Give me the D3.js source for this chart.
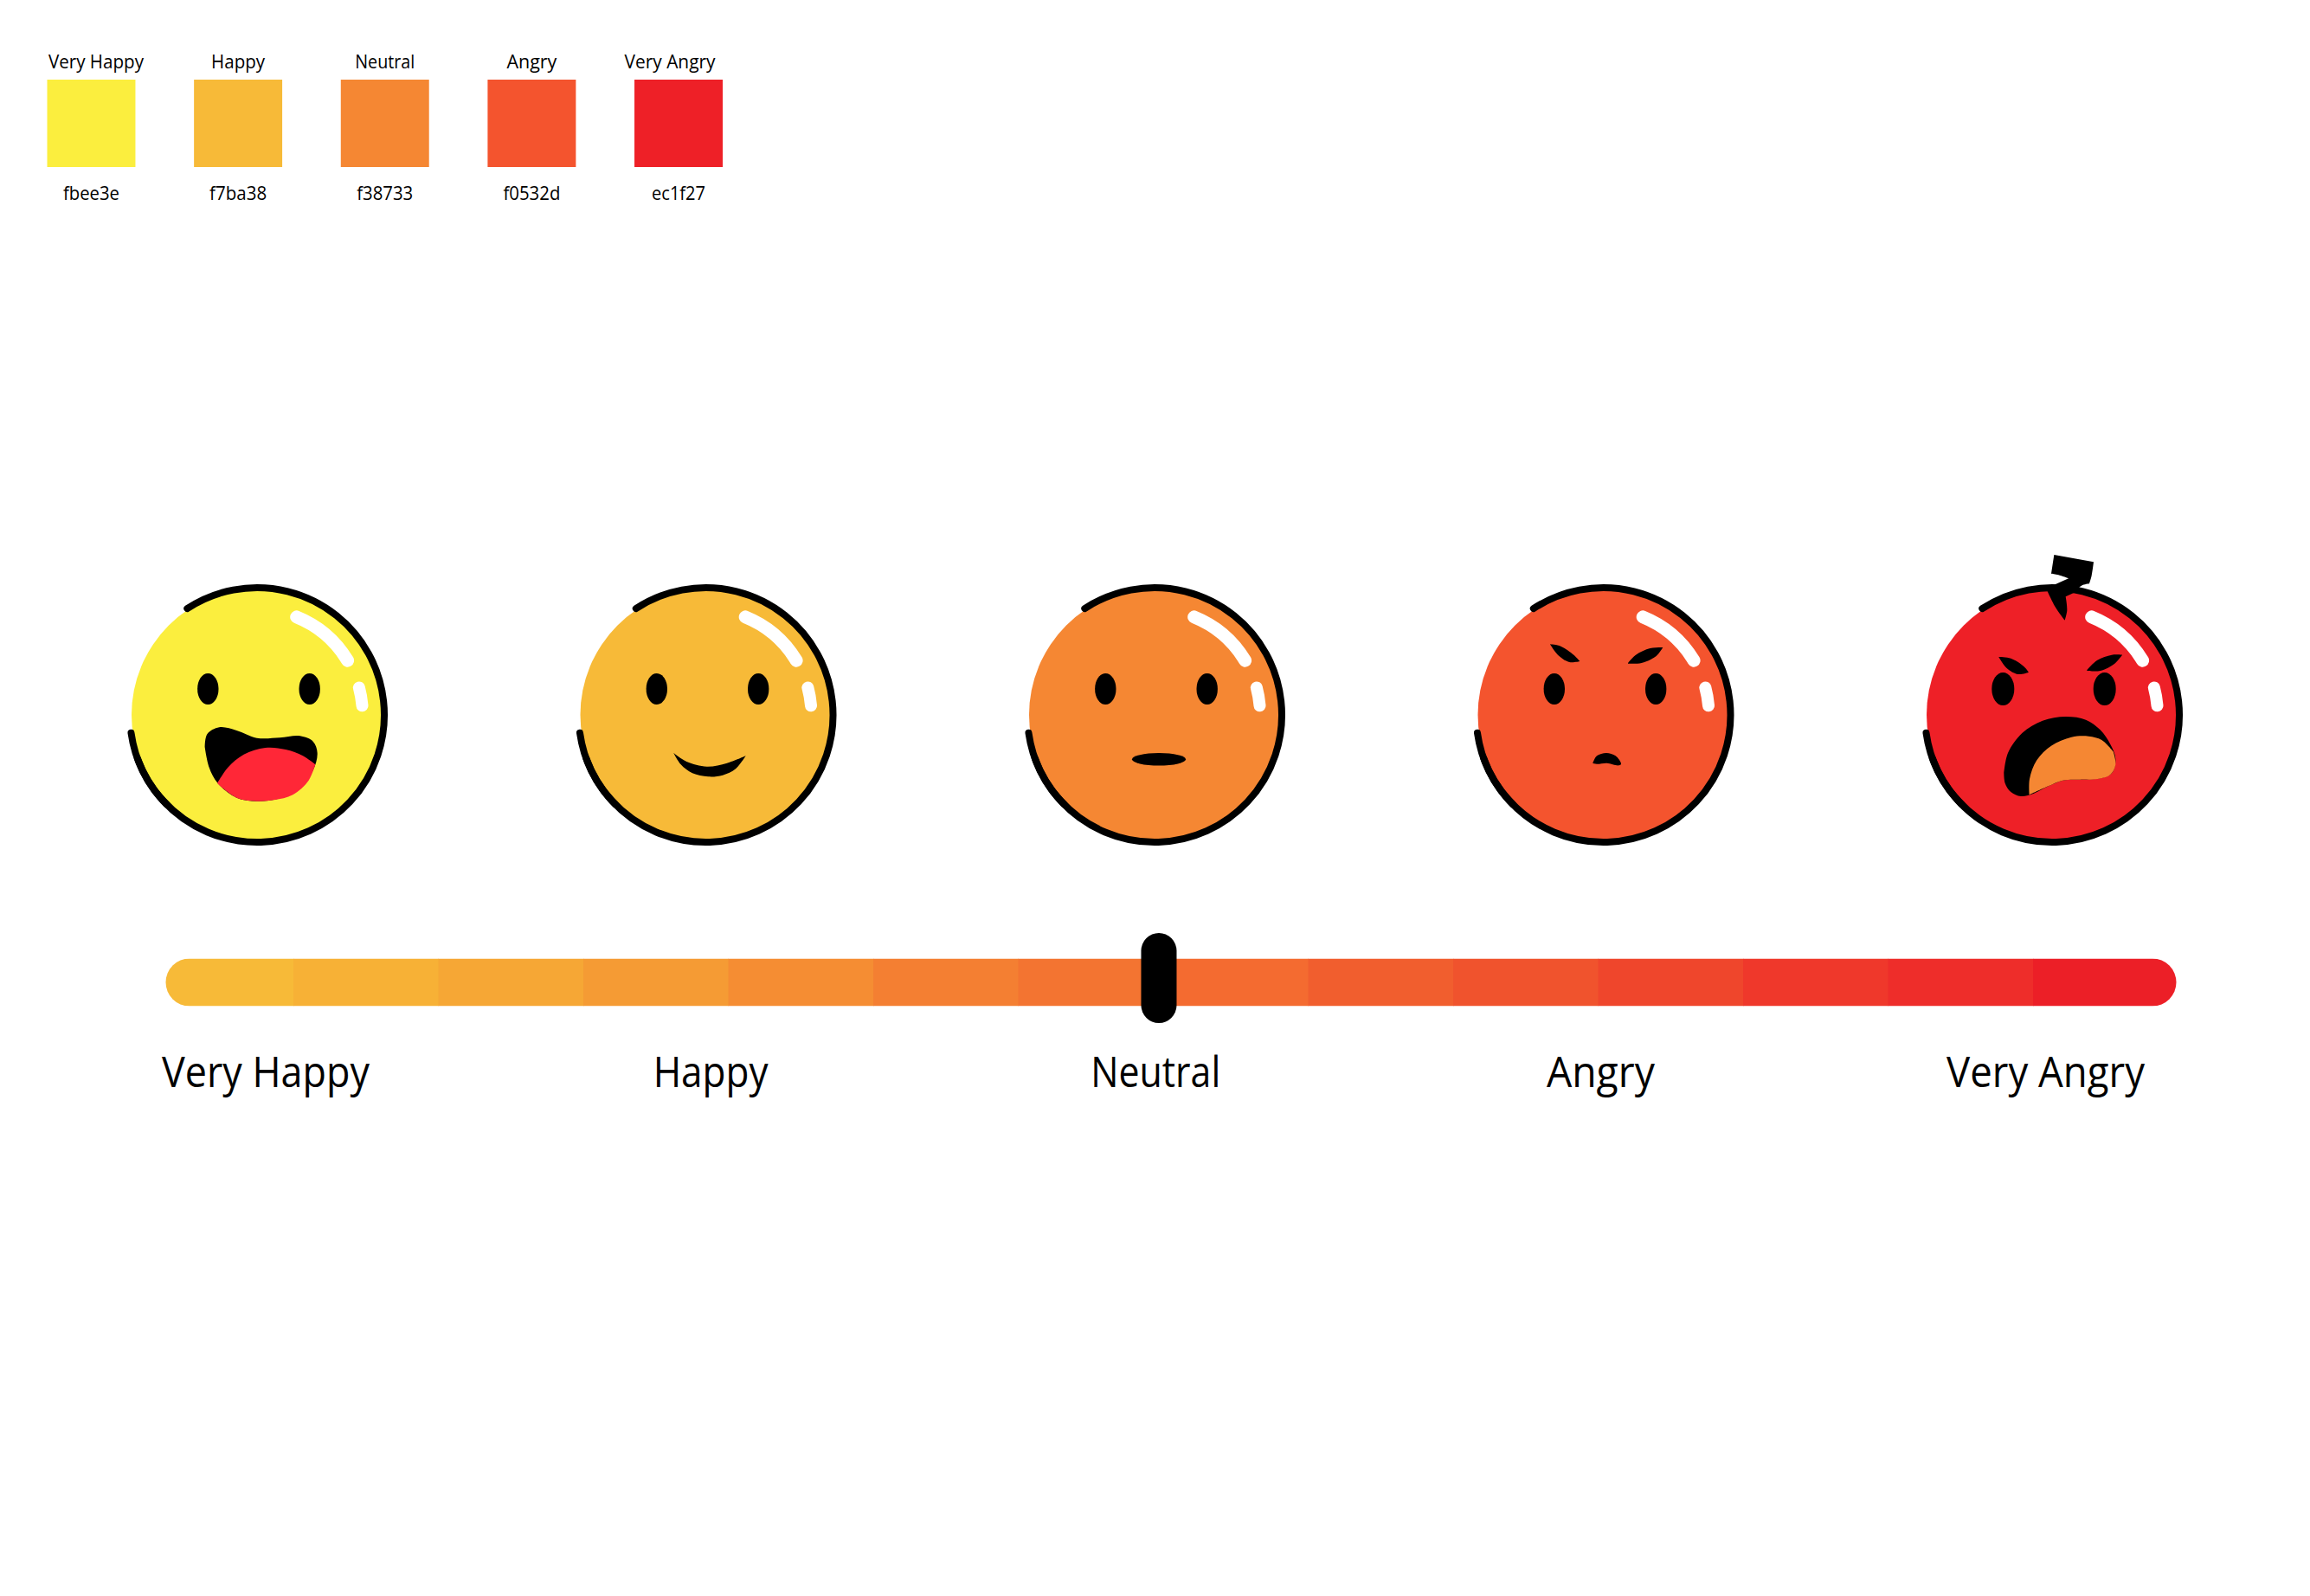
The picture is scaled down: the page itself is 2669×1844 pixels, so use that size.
<!DOCTYPE html>
<html>
<head>
<meta charset="utf-8">
<script src="https://cdn.jsdelivr.net/npm/d3@7"></script>
<style>
	html, body { margin: 0; background: #fff; }
	svg { display: block; }
	text { font-family: "Open Sans", sans-serif; fill: #000; }
</style>
</head>
<body>
<div id="chart"></div>
<script>
var moods = ["Very Happy", "Happy", "Neutral", "Angry", "Very Angry"];
var moodColors = ["#fbee3e", "#f7ba38", "#f58733", "#f4542e", "#ee2027"];
var hexLabels = ["fbee3e", "f7ba38", "f38733", "f0532d", "ec1f27"];

// slider steps, left to right
var sliderSteps = [0, 1, 2, 3, 4, 5, 6, 7, 8, 9, 10, 11, 12, 13];
var sliderColors = ["#f7ba38", "#f7b136", "#f6a735", "#f59b34", "#f58d33", "#f47f32", "#f37431",
	"#f46b30", "#f15e2e", "#f0532d", "#ef462c", "#ef382b", "#ee2d2a", "#ec1f27"];
var sliderValue = 6.97;

// label widths of the original lettering
var legendNameWidths = [110, 62, 69, 58, 105];
var legendNameShift = [5.5, 0, 0, 0, -10];
var legendHexWidths = [65, 66, 65, 66, 62];
var scaleNameWidths = [240, 133, 150, 125, 229];

var width = 2669, height = 1844;

var svg = d3.select("#chart").append("svg")
	.attr("width", width)
	.attr("height", height)
	.attr("viewBox", [0, 0, width, height]);

// ---- legend swatches
var swatchX = d3.scaleBand().domain(moods).range([54.5, 835]).paddingInner(0.399);

var legend = svg.append("g").selectAll("g").data(moods).enter().append("g");

legend.append("rect")
	.attr("x", function(d){ return swatchX(d) })
	.attr("y", 92)
	.attr("width", swatchX.bandwidth())
	.attr("height", 101)
	.attr("fill", function(d, i){ return moodColors[i] });

legend.append("text")
	.attr("x", function(d, i){ return swatchX(d) + swatchX.bandwidth() / 2 + legendNameShift[i] })
	.attr("y", 79)
	.attr("text-anchor", "middle")
	.attr("font-size", 22)
	.attr("textLength", function(d, i){ return legendNameWidths[i] })
	.attr("lengthAdjust", "spacingAndGlyphs")
	.text(function(d){ return d });

legend.append("text")
	.attr("x", function(d){ return swatchX(d) + swatchX.bandwidth() / 2 })
	.attr("y", 231)
	.attr("text-anchor", "middle")
	.attr("font-size", 22)
	.attr("textLength", function(d, i){ return legendHexWidths[i] })
	.attr("lengthAdjust", "spacingAndGlyphs")
	.text(function(d, i){ return hexLabels[i] });

// ---- faces
var faceX = d3.scalePoint().domain(moods).range([297, 2371]);
var faceY = 826, faceR = 147;

// shapes are traced in 3x crop pixels around the face centre, segments meet in hard corners
var unit = d3.scaleLinear().domain([0, 3]).range([0, 1]);
var traced = d3.line().curve(d3.curveCatmullRom)
	.x(function(d){ return unit(d[0]) })
	.y(function(d){ return unit(d[1]) });

function shape(segments, cx, cy){
	var moved = segments.map(function(seg){
		return seg.map(function(p){ return [p[0] - cx, p[1] - cy] });
	});
	return moved.map(function(seg, i){
		var d = traced(seg);
		return i ? d.replace("M", "L") : d;
	}).join("") + "Z";
}

function arcPath(r, from, to){
	var p = d3.path(), rad = Math.PI / 180;
	p.arc(0, 0, r, (from - 90) * rad, (to - 90) * rad);
	return p.toString();
}

var faces = svg.append("g").selectAll("g").data(moods).enter().append("g")
	.attr("transform", function(d){ return "translate(" + faceX(d) + "," + faceY + ")" });

faces.append("circle")
	.attr("cx", 1)
	.attr("r", faceR - 1)
	.attr("fill", function(d, i){ return moodColors[i] });

// outline, broken on the upper left
[[-33.3, 250.1], [-134.7, -98.1]].forEach(function(a){
	faces.append("path")
		.attr("d", arcPath(faceR, a[0], a[1]))
		.attr("fill", "none")
		.attr("stroke", "#000")
		.attr("stroke-width", 8)
		.attr("stroke-linecap", "round");
});

// gloss
[[22, 59, 15], [75, 85, 14]].forEach(function(a){
	faces.append("path")
		.attr("d", arcPath(122, a[0], a[1]))
		.attr("fill", "none")
		.attr("stroke", "#fff")
		.attr("stroke-width", a[2])
		.attr("stroke-linecap", "round");
});

// eyes
[-56.7, 60.7].forEach(function(ex){
	faces.append("ellipse")
		.attr("cx", ex)
		.attr("cy", -30)
		.attr("rx", function(d, i){ return i == 4 ? 13 : 12.2 })
		.attr("ry", function(d, i){ return i == 4 ? 19 : 18 })
		.attr("fill", "#000");
});

function draw(i, d, color){
	d3.select(faces.nodes()[i]).append("path").attr("d", d).attr("fill", color);
}

// very happy
var happyMouth = [[[320,610],[328,565],[370,541],[430,552],[500,578],[580,577],[650,571],[695,590],[710,630],
	[695,690],[640,760],[570,790],[500,797],[430,785],[365,735],[335,680],[320,610]]];
var happyTongue = [[[363,735],[400,680],[455,635],[530,612],[600,618],[660,640],[703,670]],
	[[703,670],[680,725],[625,775],[560,793],[500,797],[430,785],[363,735]]];
draw(0, shape(happyMouth, 501, 498), "#000");
draw(0, shape(happyTongue, 501, 498), "#ff2737");

// happy
var smile = [[[385,630],[430,660],[500,677],[570,665],[635,640]],
	[[635,640],[600,685],[555,707],[505,712],[450,700],[410,670],[385,630]]];
draw(1, shape(smile, 496.5, 498), "#000");

// neutral
d3.select(faces.nodes()[2]).append("ellipse")
	.attr("cx", 5)
	.attr("cy", 51.3)
	.attr("rx", 31)
	.attr("ry", 7.3)
	.attr("fill", "#000");

// angry
var frown = [[[451,665],[465,640],[498,630],[530,640],[549,668],[540,673],[500,665],[465,668],[451,665]]];
var angryBrowL = [[[303,253],[340,260],[385,290],[406,312]], [[406,312],[370,315],[330,290],[303,253]]];
var angryBrowR = [[[573,318],[600,290],[650,267],[694,264]], [[694,264],[670,295],[620,318],[573,320]]];
draw(3, shape(frown, 487.5, 498), "#000");
draw(3, shape(angryBrowL, 487.5, 498), "#000");
draw(3, shape(angryBrowR, 487.5, 498), "#000");

// very angry
var roarMouth = [[[316,790],[330,720],[380,650],[450,608],[530,594],[600,605],[650,640],[685,690],[703,740],
	[690,790],[650,808],[580,812],[520,815],[470,835],[420,860],[375,870],[340,855],[320,825],[316,790]]];
var roarTongue = [[[404,865],[405,810],[430,745],[480,695],[550,665],[610,662],[655,675],[695,715]],
	[[695,715],[703,760],[685,795],[640,810],[580,812],[520,815],[470,835],[404,865]]];
var roarBrowL = [[[298,387],[340,392],[385,420],[402,440]], [[402,440],[365,447],[325,425],[298,387]]];
var roarBrowR = [[[604,432],[640,398],[690,380],[726,380]], [[726,380],[700,410],[650,435],[604,435]]];
var steam = [[[490,33],[627,58]], [[627,58],[620,105],[612,133]], [[612,133],[585,140],[558,165]],
	[[558,165],[530,178]], [[530,178],[535,225],[527,260]], [[527,260],[495,215],[465,155]],
	[[465,155],[495,135]], [[495,135],[540,115]], [[540,115],[505,103],[480,98]], [[480,98],[490,33]]];
draw(4, shape(roarMouth, 483, 588), "#000");
draw(4, shape(roarTongue, 483, 588), "#f58733");
draw(4, shape(roarBrowL, 483, 588), "#000");
draw(4, shape(roarBrowR, 483, 588), "#000");
draw(4, shape(steam, 483, 588), "#000");

// ---- slider
var sliderX = d3.scaleLinear().domain([0, 14]).range([171.5, 2516.5]);
var barTop = 1107.5, barHeight = 55;

svg.append("clipPath").attr("id", "bar_clip").append("rect")
	.attr("x", 191.5)
	.attr("y", barTop)
	.attr("width", 2514.5 - 191.5)
	.attr("height", barHeight)
	.attr("rx", barHeight / 2);

svg.append("g").attr("clip-path", "url(#bar_clip)")
	.selectAll("rect").data(sliderSteps).enter().append("rect")
	.attr("x", function(d){ return sliderX(d) })
	.attr("y", barTop)
	.attr("width", function(d){ return sliderX(d + 1) - sliderX(d) + (d < 13 ? 0.5 : 0) })
	.attr("height", barHeight)
	.attr("fill", function(d, i){ return sliderColors[i] });

svg.append("rect")
	.attr("x", sliderX(sliderValue) - 20.5)
	.attr("y", 1078)
	.attr("width", 41)
	.attr("height", 104)
	.attr("rx", 20.5)
	.attr("fill", "#000");

// ---- scale names
var nameX = d3.scalePoint().domain(moods).range([307, 2363.5]);

svg.append("g").selectAll("text").data(moods).enter().append("text")
	.attr("x", function(d){ return nameX(d) })
	.attr("y", 1255.5)
	.attr("text-anchor", "middle")
	.attr("font-size", 49)
	.attr("textLength", function(d, i){ return scaleNameWidths[i] })
	.attr("lengthAdjust", "spacingAndGlyphs")
	.text(function(d){ return d });
</script>
</body>
</html>
